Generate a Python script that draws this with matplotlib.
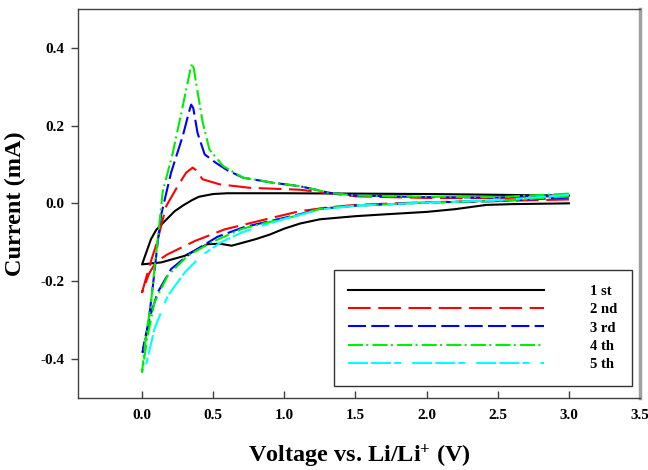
import numpy as np
import matplotlib
matplotlib.use("Agg")
import matplotlib.pyplot as plt

plt.rcParams['font.family'] = ['Liberation Serif', 'DejaVu Serif']
plt.rcParams['font.weight'] = 'bold'
plt.rcParams['axes.unicode_minus'] = False
plt.rcParams['mathtext.fontset'] = 'custom'
plt.rcParams['mathtext.rm'] = 'Liberation Serif:bold'
plt.rcParams['mathtext.default'] = 'rm'
plt.rcParams['lines.scale_dashes'] = False

# cycle 1 (cathodic 3.0 -> 0.0, then anodic 0.0 -> 3.0)
v1 = [3.0, 2.8, 2.6, 2.42, 2.2, 2.0, 1.72, 1.5, 1.25, 1.11, 1.0, 0.9, 0.8, 0.72, 0.63, 0.55, 0.46, 0.3, 0.134, 0.0,
      0.063, 0.1, 0.17, 0.23, 0.29, 0.35, 0.4, 0.5, 0.6, 0.8, 1.0, 1.5, 2.0, 2.5, 2.9, 3.0]
i1 = [0.0, -0.001, -0.002, -0.004, -0.015, -0.022, -0.028, -0.033, -0.041, -0.052, -0.065, -0.08, -0.092, -0.10, -0.109, -0.104, -0.105, -0.135, -0.152, -0.157,
      -0.092, -0.068, -0.042, -0.02, -0.005, 0.008, 0.017, 0.024, 0.026, 0.026, 0.026, 0.025, 0.024, 0.022, 0.02, 0.02]

# cycle 2
v2 = [3.0, 2.5, 2.0, 1.5, 1.32, 1.11, 0.87, 0.58, 0.37, 0.18, 0.1, 0.05, 0.0,
      0.03, 0.07, 0.11, 0.134, 0.17, 0.25, 0.31, 0.356, 0.38, 0.425, 0.545, 0.755, 1.11, 1.5, 2.0, 2.5, 3.0]
i2 = [0.01, 0.006, 0.003, -0.004, -0.01, -0.02, -0.041, -0.067, -0.097, -0.131, -0.15, -0.18, -0.229,
      -0.19, -0.14, -0.095, -0.058, -0.007, 0.044, 0.079, 0.092, 0.085, 0.062, 0.049, 0.040, 0.035, 0.018, 0.014, 0.013, 0.02]

# cycle 3
v3 = [3.0, 2.5, 2.0, 1.5, 1.25, 1.11, 0.87, 0.71, 0.53, 0.345, 0.204, 0.11, 0.051, 0.016, 0.004,
      0.04, 0.08, 0.11, 0.134, 0.204, 0.286, 0.33, 0.345, 0.36, 0.39, 0.44, 0.52, 0.6, 0.71, 0.92, 1.11, 1.32, 1.5, 2.0, 2.5, 3.0]
i3 = [0.015, 0.006, 0.002, -0.006, -0.014, -0.028, -0.048, -0.062, -0.086, -0.127, -0.169, -0.229, -0.297, -0.357, -0.383,
      -0.323, -0.2, -0.1, -0.03, 0.079, 0.173, 0.235, 0.254, 0.245, 0.181, 0.126, 0.104, 0.085, 0.066, 0.053, 0.044, 0.027, 0.02, 0.016, 0.015, 0.022]

# cycle 4
v4 = [3.0, 2.5, 2.0, 1.5, 1.25, 1.11, 0.87, 0.7, 0.49, 0.32, 0.18, 0.087, 0.04, 0.0,
      0.028, 0.063, 0.087, 0.12, 0.145, 0.216, 0.286, 0.34, 0.352, 0.365, 0.38, 0.427, 0.474, 0.57, 0.71, 0.92, 1.11, 1.32, 1.5, 2.0, 2.5, 3.0]
i4 = [0.018, 0.006, 0.002, -0.006, -0.014, -0.03, -0.05, -0.066, -0.10, -0.135, -0.186, -0.255, -0.34, -0.434,
      -0.34, -0.255, -0.169, -0.06, 0.03, 0.13, 0.25, 0.345, 0.361, 0.345, 0.309, 0.207, 0.138, 0.096, 0.066, 0.053, 0.044, 0.027, 0.02, 0.017, 0.016, 0.025]

# cycle 5 (only cathodic branch visible)
v5 = [3.0, 2.5, 2.0, 1.5, 1.25, 1.0, 0.85, 0.7, 0.556, 0.415, 0.3, 0.18, 0.087, 0.016]
i5 = [0.022, 0.008, 0.002, -0.006, -0.016, -0.04, -0.057, -0.075, -0.10, -0.135, -0.178, -0.238, -0.323, -0.434]

labels = ['1 st', '2 nd', '3 rd', '4 th', '5 th']
colors = ['black', 'red', 'blue', '#00ee00', 'cyan']
dashes = [None, (16.3, 5.5), (13, 3.8), (10.8, 2.4, 1.4, 3.1), (14.4, 2.2, 14.4, 2.2, 5, 8)]

fig = plt.figure(figsize=(6.48, 4.70), dpi=100)
ax = fig.add_axes([0.1204, 0.1538, 0.8673, 0.8271])

for v, cur, lab, c, d in zip([v1, v2, v3, v4, v5], [i1, i2, i3, i4, i5], labels, colors, dashes):
    line, = ax.plot(v, cur, color=c, lw=1.5, label=lab)
    if d is not None:
        line.set_dashes(d)

ax.set_xlim(-0.45, 3.5)
ax.set_ylim(-0.5, 0.5)
ax.set_xticks([0.0, 0.5, 1.0, 1.5, 2.0, 2.5, 3.0, 3.5])
ax.set_xticklabels(['0.0', '0.5', '1.0', '1.5', '2.0', '2.5', '3.0', '3.5'])
ax.set_yticks([-0.4, -0.2, 0.0, 0.2, 0.4])
ax.set_yticklabels(['-0.4', '-0.2', '0.0', '0.2', '0.4'])
ax.tick_params(axis='x', direction='in', length=5, width=1, color='#404040', labelsize=11, pad=8)
ax.tick_params(axis='y', direction='out', length=5, width=1, color='#404040', labelsize=11, pad=5)
ax.tick_params(top=False, right=False)

for s in ['left', 'top', 'bottom']:
    ax.spines[s].set_color('#404040')
    ax.spines[s].set_linewidth(1)
ax.spines['right'].set_color('#a0a0a0')
ax.spines['right'].set_linewidth(2.5)

ax.set_xlabel('Voltage vs. Li/Li$^{+}$ (V)', fontsize=17.5, fontweight='bold', labelpad=15)
ax.set_ylabel('Current (mA)', fontsize=17.5, fontweight='bold', labelpad=10)

leg = ax.legend(loc='lower right', bbox_to_anchor=(0.986, 0.030), borderaxespad=0,
                fontsize=10.5, handlelength=13.4, handletextpad=3.2, labelspacing=0.36,
                borderpad=1.0, fancybox=False, framealpha=1, edgecolor='#333333')
leg.get_frame().set_linewidth(1)

fig.savefig('out.png', dpi=100)
